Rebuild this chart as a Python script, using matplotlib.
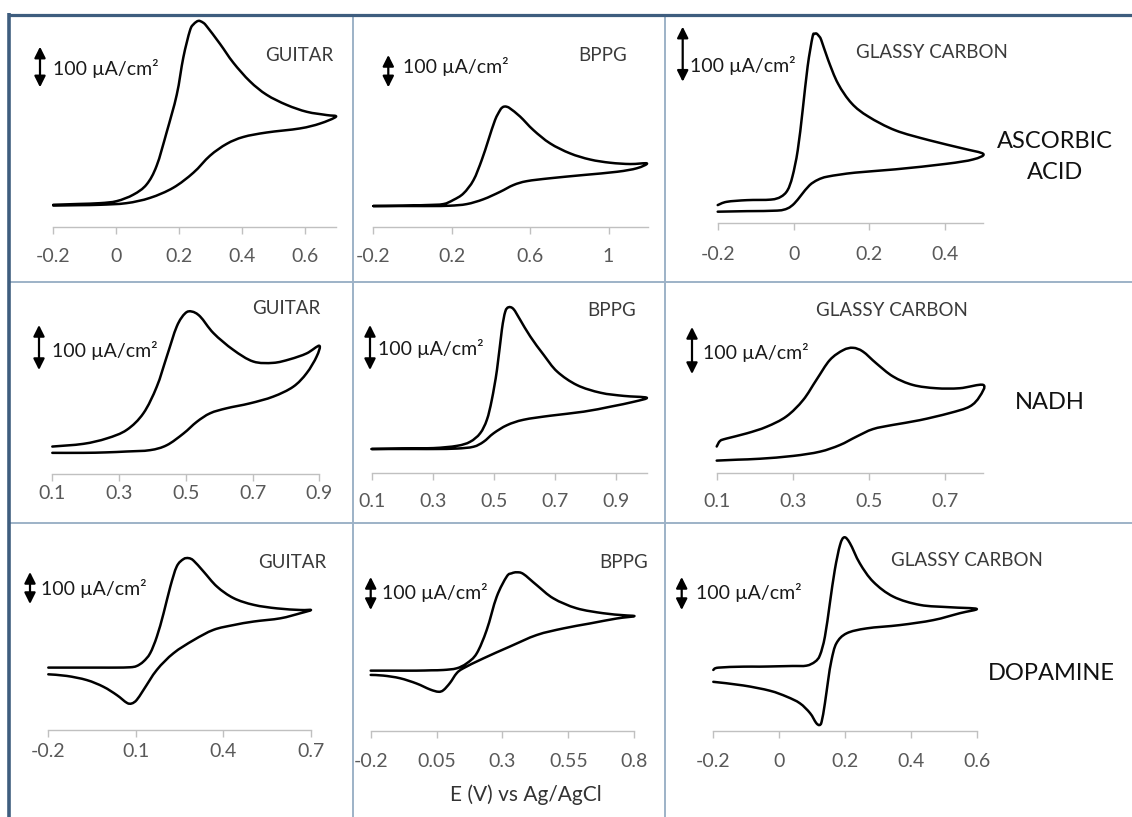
import matplotlib.pyplot as plt
from matplotlib.path import Path
from matplotlib.patches import PathPatch

plt.rcParams["font.family"] = ["Lato", "DejaVu Sans"]
plt.rcParams["axes.unicode_minus"] = False

W, H = 1132, 817

# Cyclic voltammograms: potential (V vs Ag/AgCl) and current density (uA/cm2),
# forward sweep followed by the reverse sweep (one closed loop per electrode).

# --- ascorbic acid ---
aa_guitar_e = [-0.2, -0.12, -0.051, 0.002, 0.055, 0.097, 0.129, 0.161, 0.193, 0.214, 0.235,
               0.247, 0.262, 0.276, 0.288, 0.331, 0.373, 0.426, 0.479, 0.543, 0.607, 0.670,
               0.700, 0.649, 0.585, 0.479, 0.405, 0.352, 0.299, 0.246, 0.182, 0.108, 0.033,
               -0.051, -0.12, -0.2]
aa_guitar_i = [54, 56, 58, 63, 79, 104, 150, 233, 325, 417, 483,
               499, 507, 503, 494, 450, 404, 358, 325, 300, 283, 275,
               271, 254, 242, 232, 221, 204, 175, 133, 96, 71, 58,
               54, 53, 52]

aa_bppg_e = [-0.2, -0.05, 0.07, 0.157, 0.209, 0.260, 0.311, 0.353, 0.387, 0.421, 0.447,
             0.458, 0.469, 0.483, 0.498, 0.549, 0.617, 0.702, 0.804, 0.906, 1.009, 1.111,
             1.196, 1.145, 1.043, 0.872, 0.702, 0.583, 0.515, 0.447, 0.362, 0.277, 0.191,
             0.1, 0.021, -0.09, -0.2]
aa_bppg_i = [64, 65, 67, 70, 83, 103, 144, 206, 268, 330, 361,
             369, 372, 371, 366, 341, 299, 258, 227, 208, 198, 194,
             196, 181, 170, 160, 150, 141, 129, 108, 85, 70, 65,
             64, 64, 64, 64]

aa_gc_e = [-0.2, -0.176, -0.123, -0.060, -0.034, -0.016, -0.003, 0.011, 0.024, 0.037, 0.050,
           0.055, 0.060, 0.066, 0.073, 0.091, 0.117, 0.153, 0.197, 0.268, 0.357, 0.446, 0.5,
           0.473, 0.402, 0.268, 0.162, 0.091, 0.064, 0.042, 0.020, 0.002, -0.016, -0.043,
           -0.123, -0.2]
aa_gc_i = [32, 38, 41, 42, 47, 59, 84, 132, 205, 284, 338,
           343, 344, 340, 332, 296, 253, 217, 193, 168, 150, 135, 125,
           115, 107, 97, 91, 84, 78, 68, 50, 35, 26, 22,
           21, 20]

# --- NADH ---
nadh_guitar_e = [0.1, 0.193, 0.263, 0.323, 0.373, 0.413, 0.443, 0.473, 0.498, 0.518, 0.543,
                 0.583, 0.642, 0.702, 0.762, 0.812, 0.862, 0.9,
                 0.892, 0.862, 0.822, 0.762, 0.692, 0.622, 0.573, 0.533, 0.493, 0.443, 0.393,
                 0.323, 0.26, 0.193, 0.1]
nadh_guitar_i = [61, 67, 79, 98, 135, 194, 261, 328, 357, 361, 350,
                 313, 276, 250, 247, 255, 268, 285,
                 261, 224, 194, 172, 157, 146, 135, 116, 90, 64, 53,
                 50, 48, 47, 47]

nadh_bppg_e = [0.1, 0.2, 0.302, 0.379, 0.422, 0.455, 0.477, 0.493, 0.510, 0.526, 0.537, 0.548,
               0.564, 0.586, 0.619, 0.663, 0.707, 0.772, 0.849, 0.925, 1.0,
               0.958, 0.881, 0.794, 0.685, 0.597, 0.543, 0.499, 0.466, 0.433, 0.379, 0.31,
               0.248, 0.17, 0.1]
nadh_bppg_i = [54, 55, 56, 61, 70, 89, 119, 163, 230, 319, 359, 369,
               365, 341, 304, 263, 226, 196, 179, 172, 168,
               159, 148, 137, 128, 119, 107, 89, 70, 59, 55, 54,
               54, 54, 54]

nadh_gc_e = [0.1, 0.109, 0.126, 0.179, 0.231, 0.283, 0.327, 0.362, 0.397, 0.432, 0.458,
             0.484, 0.519, 0.563, 0.615, 0.676, 0.738, 0.8,
             0.790, 0.764, 0.711, 0.633, 0.563, 0.510, 0.467, 0.423, 0.371, 0.301, 0.214,
             0.155, 0.1]
nadh_gc_i = [57, 69, 74, 85, 99, 121, 156, 199, 241, 262, 267,
             259, 234, 206, 188, 181, 181, 188,
             163, 142, 128, 113, 103, 94, 78, 60, 46, 37, 31,
             29, 27]

# --- dopamine ---
da_guitar_e = [-0.2, -0.11, -0.023, 0.03, 0.080, 0.103, 0.126, 0.149, 0.172, 0.195, 0.218,
               0.240, 0.263, 0.281, 0.298, 0.332, 0.378, 0.435, 0.504, 0.584, 0.664, 0.7,
               0.664, 0.595, 0.504, 0.435, 0.366, 0.298, 0.229, 0.172, 0.126, 0.103, 0.086,
               0.069, 0.035, -0.011, -0.068, -0.137, -0.2]
da_guitar_i = [195, 195, 195, 195, 196, 200, 214, 240, 292, 365, 448,
               511, 534, 537, 529, 495, 448, 412, 391, 380, 375, 375,
               365, 349, 339, 328, 313, 281, 240, 188, 125, 94, 83,
               85, 109, 135, 156, 169, 174]

da_bppg_e = [-0.2, -0.11, -0.026, 0.03, 0.076, 0.126, 0.164, 0.202, 0.240, 0.278, 0.316,
             0.335, 0.354, 0.379, 0.430, 0.493, 0.581, 0.682, 0.758, 0.8,
             0.733, 0.632, 0.531, 0.430, 0.328, 0.227, 0.151, 0.126, 0.101, 0.076, 0.057,
             0.025, -0.026, -0.089, -0.152, -0.2]
da_bppg_i = [182, 182, 182, 183, 184, 189, 204, 234, 305, 406, 467,
             477, 480, 475, 441, 401, 371, 356, 350, 347,
             340, 325, 310, 290, 255, 219, 189, 174, 145, 123, 118,
             125, 143, 159, 167, 169]

da_gc_e = [-0.2, -0.185, -0.109, -0.06, -0.008, 0.04, 0.083, 0.109, 0.124, 0.139, 0.154,
           0.169, 0.185, 0.198, 0.215, 0.245, 0.286, 0.347, 0.428, 0.519, 0.6,
           0.549, 0.468, 0.367, 0.266, 0.205, 0.174, 0.159, 0.149, 0.139, 0.129, 0.122,
           0.112, 0.094, 0.063, 0.023, -0.028, -0.109, -0.2]
da_gc_i = [185, 192, 195, 195, 196, 197, 198, 210, 230, 286, 387,
           488, 564, 587, 569, 508, 452, 407, 382, 375, 370,
           357, 336, 321, 311, 296, 266, 215, 155, 84, 28, 18,
           25, 54, 84, 104, 122, 138, 149]

# x-axis ticks per panel
ticks_a = [-0.2, 0, 0.2, 0.4, 0.6]
labels_a = ["-0.2", "0", "0.2", "0.4", "0.6"]
ticks_b = [-0.2, 0.2, 0.6, 1.0]
labels_b = ["-0.2", "0.2", "0.6", "1"]
ticks_c = [-0.2, 0, 0.2, 0.4]
labels_c = ["-0.2", "0", "0.2", "0.4"]
ticks_n = [0.1, 0.3, 0.5, 0.7, 0.9]
labels_n = ["0.1", "0.3", "0.5", "0.7", "0.9"]
ticks_ng = [0.1, 0.3, 0.5, 0.7]
labels_ng = ["0.1", "0.3", "0.5", "0.7"]
ticks_dg = [-0.2, 0.1, 0.4, 0.7]
labels_dg = ["-0.2", "0.1", "0.4", "0.7"]
ticks_db = [-0.2, 0.05, 0.3, 0.55, 0.8]
labels_db = ["-0.2", "0.05", "0.3", "0.55", "0.8"]

electrodes = ["GUITAR", "BPPG", "GLASSY CARBON"]
analytes = ["ASCORBIC\nACID", "NADH", "DOPAMINE"]

# layout in pixels: x0/x1 = ends of the x axis, ay = axis line, top = cell top,
# bar = length of the 100 uA/cm2 arrow, (bx, by) = arrow x and lower tip,
# (lx, ly) = scale label, (tx, ty) = electrode title, gap = axis -> tick label centre
panels = [
    dict(e=aa_guitar_e, i=aa_guitar_i, xlim=(-0.2, 0.7), ticks=ticks_a, labels=labels_a,
         x0=53.3, x1=336, ay=226.7, top=16, bar=40.6, bx=40, by=87.3,
         lx=53, ly=68, tx=299, ty=55, gap=28, title=electrodes[0]),
    dict(e=aa_bppg_e, i=aa_bppg_i, xlim=(-0.2, 1.2), ticks=ticks_b, labels=labels_b,
         x0=373.3, x1=647.7, ay=226.7, top=16, bar=32.3, bx=388.3, by=87.3,
         lx=403, ly=66.7, tx=603, ty=55, gap=28, title=electrodes[1]),
    dict(e=aa_gc_e, i=aa_gc_i, xlim=(-0.2, 0.5), ticks=ticks_c, labels=labels_c,
         x0=717.7, x1=983.3, ay=222.7, top=16, bar=55, bx=682.7, by=81.7,
         lx=690, ly=65, tx=932, ty=52, gap=30, title=electrodes[2]),
    dict(e=nadh_guitar_e, i=nadh_guitar_i, xlim=(0.1, 0.9), ticks=ticks_n, labels=labels_n,
         x0=52.3, x1=319.3, ay=474, top=283, bar=45, bx=39, by=370,
         lx=51.7, ly=350, tx=286, ty=308, gap=18, title=electrodes[0]),
    dict(e=nadh_bppg_e, i=nadh_bppg_i, xlim=(0.1, 1.0), ticks=ticks_n, labels=labels_n,
         x0=371.7, x1=646.7, ay=473.3, top=283, bar=45, bx=370, by=370,
         lx=378, ly=348, tx=612, ty=310, gap=27, title=electrodes[1]),
    dict(e=nadh_gc_e, i=nadh_gc_i, xlim=(0.1, 0.8), ticks=ticks_ng, labels=labels_ng,
         x0=716.7, x1=983.3, ay=473.3, top=283, bar=47, bx=692, by=374,
         lx=703, ly=352, tx=892, ty=310, gap=27, title=electrodes[2]),
    dict(e=da_guitar_e, i=da_guitar_i, xlim=(-0.2, 0.7), ticks=ticks_dg, labels=labels_dg,
         x0=48.3, x1=311, ay=730, top=524, bar=32, bx=30, by=604,
         lx=40.7, ly=588, tx=292, ty=563, gap=20, title=electrodes[0]),
    dict(e=da_bppg_e, i=da_bppg_i, xlim=(-0.2, 0.8), ticks=ticks_db, labels=labels_db,
         x0=370.7, x1=634.3, ay=730.7, top=524, bar=33, bx=370.7, by=610,
         lx=381.7, ly=593, tx=624, ty=563, gap=29, title=electrodes[1]),
    dict(e=da_gc_e, i=da_gc_i, xlim=(-0.2, 0.6), ticks=ticks_a, labels=labels_a,
         x0=713.3, x1=976.7, ay=731, top=524, bar=33, bx=681.7, by=610,
         lx=696, ly=593, tx=967, ty=560, gap=29, title=electrodes[2]),
]

FS = 14
TICK_LEN = 7  # px
PT = 72 / 100  # points per pixel at dpi 100


def smooth_path(xs, ys):
    # Catmull-Rom curve through the read points (like a "smoothed line" in a spreadsheet)
    pts = list(zip(xs, ys))
    n = len(pts)
    verts = [pts[0]]
    codes = [Path.MOVETO]
    for k in range(n - 1):
        p0 = pts[k - 1] if k > 0 else pts[k]
        p1, p2 = pts[k], pts[k + 1]
        p3 = pts[k + 2] if k + 2 < n else p2
        c1 = (p1[0] + (p2[0] - p0[0]) / 6, p1[1] + (p2[1] - p0[1]) / 6)
        c2 = (p2[0] - (p3[0] - p1[0]) / 6, p2[1] - (p3[1] - p1[1]) / 6)
        verts += [c1, c2, p2]
        codes += [Path.CURVE4] * 3
    return Path(verts, codes)


fig = plt.figure(figsize=(W / 100, H / 100), dpi=100)

# background frame and cell dividers, drawn in pixel coordinates
bg = fig.add_axes([0, 0, 1, 1], zorder=-1)
bg.set_xlim(0, W)
bg.set_ylim(H, 0)
bg.axis("off")
frame = "#3e5d7e"
divider = "#9db2c7"
for x in (352.7, 665):
    bg.plot([x, x], [14.5, H], color=divider, lw=1.4)
for y in (282, 523):
    bg.plot([9, W], [y, y], color=divider, lw=1.4)
bg.plot([9, W], [14.5, 14.5], color=frame, lw=3.2 * PT, solid_capstyle="butt")
bg.plot([9, 9], [13, H], color=frame, lw=3.6 * PT, solid_capstyle="butt")

for p in panels:
    height = p["ay"] - p["top"]
    ax = fig.add_axes([p["x0"] / W, 1 - p["ay"] / H, (p["x1"] - p["x0"]) / W, height / H])
    ax.patch.set_alpha(0)
    ax.set_xlim(*p["xlim"])
    ax.set_ylim(0, height * 100 / p["bar"])
    for side in ("top", "left", "right"):
        ax.spines[side].set_visible(False)
    ax.spines["bottom"].set_color("#c0c0c0")
    ax.spines["bottom"].set_linewidth(1.0)
    ax.set_yticks([])
    ax.set_xticks(p["ticks"], labels=p["labels"])
    pad_px = p["gap"] - TICK_LEN - 0.36 * FS / PT
    ax.tick_params(axis="x", direction="out", length=TICK_LEN * PT, width=1.0,
                   color="#c0c0c0", labelcolor="#595959", labelsize=FS, pad=pad_px * PT)

    ax.add_patch(PathPatch(smooth_path(p["e"], p["i"]), facecolor="none",
                           edgecolor="black", lw=1.8, joinstyle="round",
                           capstyle="round", clip_on=False))

    # 100 uA/cm2 scale bar
    x0, x1 = p["xlim"]
    bx = x0 + (p["bx"] - p["x0"]) / (p["x1"] - p["x0"]) * (x1 - x0)
    by = (p["ay"] - p["by"]) * 100 / p["bar"]
    ax.annotate("", xy=(bx, by + 100), xytext=(bx, by), annotation_clip=False,
                arrowprops=dict(arrowstyle="<|-|>,head_length=0.6,head_width=0.3",
                                color="black", lw=1.6, shrinkA=0, shrinkB=0,
                                mutation_scale=11))

    bg.text(p["lx"], p["ly"], "100 µA/cm²", fontsize=FS, color="#1a1a1a",
            ha="left", va="center")
    bg.text(p["tx"], p["ty"], p["title"], fontsize=13.5, color="#3a3a3a",
            ha="center", va="center")

# analyte labels on the right and the shared potential label
bg.text(1055, 157, analytes[0], fontsize=17, color="#111111", ha="center",
        va="center", linespacing=1.6)
bg.text(1050, 402, analytes[1], fontsize=17, color="#111111", ha="center", va="center")
bg.text(1051, 673, analytes[2], fontsize=17, color="#111111", ha="center", va="center")
bg.text(526, 795, "E (V) vs Ag/AgCl", fontsize=15, color="#333333",
        ha="center", va="center")

fig.savefig("out.png", dpi=100, facecolor="white")
